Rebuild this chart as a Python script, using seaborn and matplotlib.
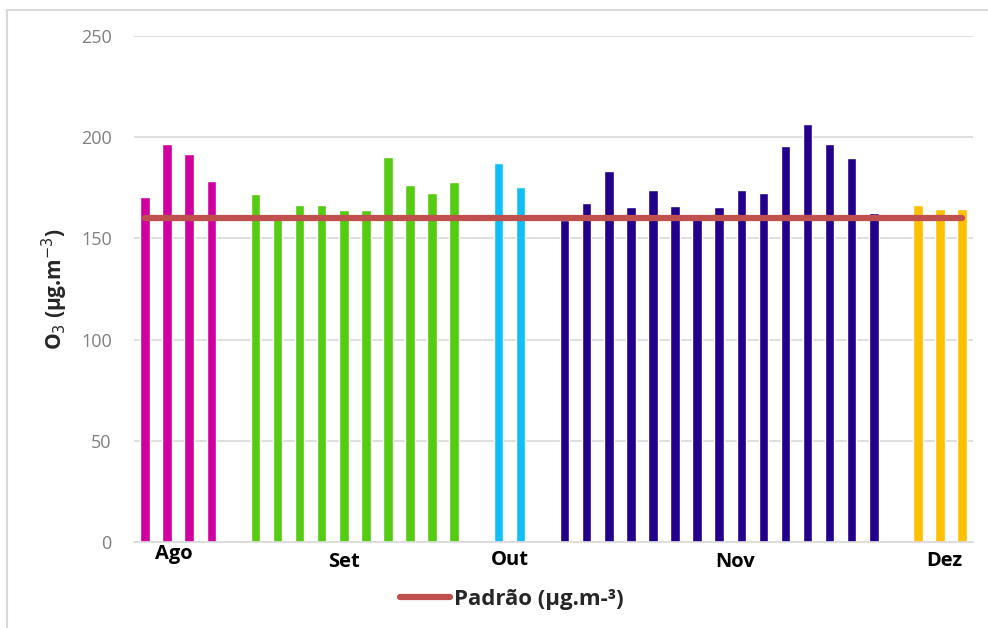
import numpy as np
import pandas as pd
import matplotlib.pyplot as plt
import matplotlib.lines as mlines
import matplotlib.transforms as mtransforms
import seaborn as sns

# ---------------------------------------------------------------
# Dados — O3 diário por mês
# ---------------------------------------------------------------
meses = ["Ago", "Set", "Out", "Nov", "Dez"]
o3_ago = [170.6, 196.4, 191.8, 178.6]
o3_set = [172.0, 162.2, 166.7, 166.7, 164.0, 164.0, 190.4, 176.6, 172.6, 177.9]
o3_out = [187.1, 175.2]
o3_nov = [159.3, 167.5, 183.2, 165.5, 174.0, 166.0, 159.5, 165.5, 174.0,
          172.6, 195.7, 206.3, 196.4, 189.8, 162.7]
o3_dez = [166.7, 164.7, 164.7]
cores = ["#d000a0", "#55cc11", "#10bff5", "#22008c", "#ffc000"]
padrao = 160
legenda_padrao = "Padrão (µg.m-³)"

# posição dos rótulos dos meses (em slots) e deslocamento vertical (pt),
# como o Excel desenha no original
rotulo_x = [1.3, 9.0, 16.5, 26.7, 36.2]
rotulo_dy = [0, -6, -4, -6, -5]

# ---------------------------------------------------------------
# Monta a tabela: um slot por dia, com um slot vazio entre os meses
# ---------------------------------------------------------------
series = [o3_ago, o3_set, o3_out, o3_nov, o3_dez]
linhas = []
slot = 0
for i, (mes, vals) in enumerate(zip(meses, series)):
    for v in vals:
        linhas.append({"slot": slot, "o3": v, "mes": mes})
        slot += 1
    if i < len(series) - 1:
        slot += 1  # espaço entre meses
df = pd.DataFrame(linhas)
n_slots = slot

# ---------------------------------------------------------------
# Gráfico
# ---------------------------------------------------------------
sns.set_theme(style="white")
plt.rcParams["font.family"] = ["Open Sans", "DejaVu Sans"]

fig = plt.figure(figsize=(9.88, 6.28), dpi=100)
ax = fig.add_axes([0.1356, 0.1369, 0.8494, 0.8058])

sns.barplot(data=df, x="slot", y="o3", hue="mes", order=list(range(n_slots)),
            hue_order=meses, palette=cores, saturation=1, dodge=False,
            width=0.43, legend=False, ax=ax, zorder=2)

x0, x1 = df["slot"].min(), df["slot"].max()
sns.lineplot(x=[x0, x1], y=[padrao, padrao], color="#c0504d", linewidth=4.5,
             solid_capstyle="round", ax=ax, zorder=3)

ax.set_xlim(-0.5, n_slots - 0.5)
ax.set_ylim(0, 250)
ax.set_yticks([0, 50, 100, 150, 200, 250])
ax.yaxis.grid(True, color="#d9d9d9", linewidth=1.2, zorder=0)
ax.set_axisbelow(True)
for s in ["left", "right", "top"]:
    ax.spines[s].set_visible(False)
ax.spines["bottom"].set_color("#d9d9d9")
ax.spines["bottom"].set_linewidth(1.2)

ax.tick_params(axis="y", length=0, labelsize=13, labelcolor="#808080", pad=16)
ax.set_xticks([])
ax.set_xlabel("")

# rótulos dos meses (categoria de nível superior)
trans = mtransforms.blended_transform_factory(ax.transData, ax.transAxes)
for mes, xr, dy in zip(meses, rotulo_x, rotulo_dy):
    off = mtransforms.ScaledTranslation(0, dy / 72, fig.dpi_scale_trans)
    ax.text(xr, -0.004, mes, transform=trans + off, ha="center", va="top",
            fontsize=14.5, fontweight="bold", color="black")

ax.set_ylabel(r"O$_3$ (µg.m$^{-3}$)", fontsize=15, fontweight="bold",
              labelpad=8)

# legenda embaixo
h = mlines.Line2D([], [], color="#c0504d", linewidth=4.5)
fig.legend([h], [legenda_padrao], loc="center", bbox_to_anchor=(0.518, 0.045),
           frameon=False, prop={"size": 16, "weight": "bold"},
           handlelength=2.25, handletextpad=0.15)

# moldura cinza da área do gráfico
fig.add_artist(mlines.Line2D([0.007, 1.0], [0.984, 0.984], color="#d9d9d9",
                             linewidth=1.5, transform=fig.transFigure))
fig.add_artist(mlines.Line2D([0.007, 0.007], [0.0, 0.984], color="#d9d9d9",
                             linewidth=1.5, transform=fig.transFigure))

plt.savefig("out.png", dpi=100)
